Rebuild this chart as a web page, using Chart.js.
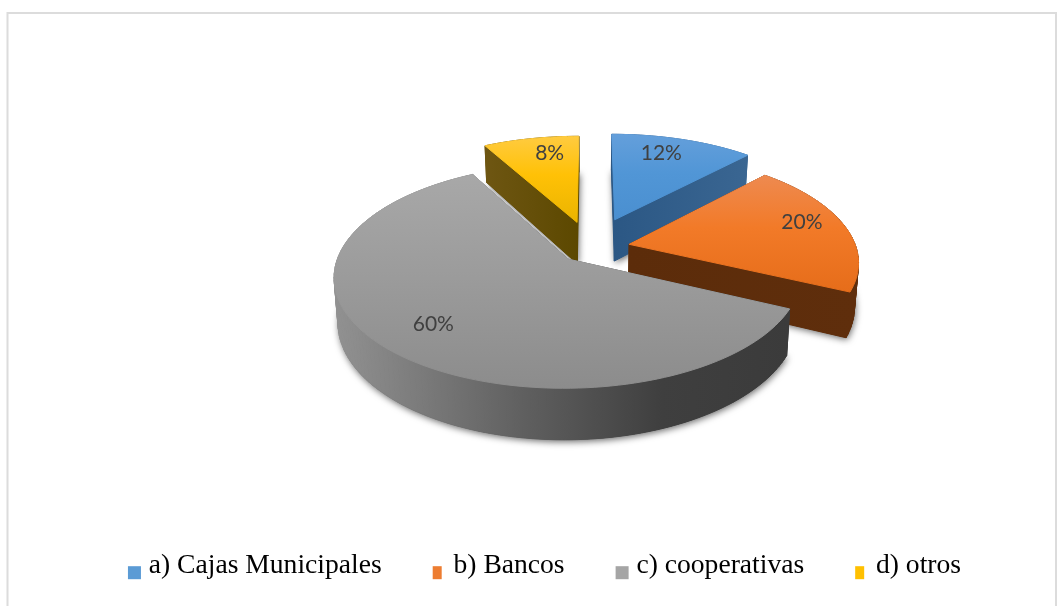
<!DOCTYPE html>
<html><head><meta charset="utf-8">
<style>html,body{margin:0;padding:0;background:#fff}canvas{display:block}</style>
<script src="https://cdn.jsdelivr.net/npm/chart.js@4"></script>
</head><body><canvas id="c" width="1059" height="606"></canvas>
<script>
const categories = ["a) Cajas Municipales","b) Bancos","c) cooperativas","d) otros"];
const shares = [12,20,60,8];
const explodePx = [67,39,33,58];
const labelRadius = [0.72,0.8,0.83,0.7];
const labelNudge = [[-4,-7],[0,-7],[12,-8],[6,-8]];
const topColors = [["#649FDB","#5196D6","#4A8FD0"],["#EE8A50","#F27A28","#E66D1A"],["#A8A8A8","#9C9C9C","#8C8C8C"],["#FFCB40","#FFC106","#EAB400"]];
const sideColors = [["#2B5784","#3A6692"],["#5C2C0A","#5F2E0C"],["#929292","#3B3B3B"],["#6E5612","#5C4800"]];
const markerColors = ["#5B9BD5","#ED7D31","#A5A5A5","#FFC000"];
const markerWidths = [13,9,13,9];
const drawOrder = [0,3,1,2];

const view = {shiftX:47, shiftY:-8, a:227, b:106, k:0.15, depth:43, shrink:0.985};

function makeProjector(el){
  const cx = el.x + view.shiftX - 0.5, cy = el.y + view.shiftY;
  return (u,v,z)=>{
    const s = 1/(1-view.k*v);
    const xs = z ? view.shrink : 1;
    return {x: cx + view.a*u*s*xs, y: cy + view.b*v*s + view.depth*z*s};
  };
}
function sliceOutline(el,i){
  const th0 = el.startAngle+Math.PI/2, th1 = el.endAngle+Math.PI/2, mid=(th0+th1)/2;
  const e = explodePx[i]/view.a;
  const ex = e*Math.sin(mid), ey = -e*Math.cos(mid);
  const pts=[{u:ex,v:ey,radial:true}];
  const n = Math.max(8,Math.round((th1-th0)/0.03));
  for(let j=0;j<=n;j++){const t=th0+(th1-th0)*j/n;pts.push({u:ex+Math.sin(t),v:ey-Math.cos(t)});}
  return {pts,mid,ex,ey};
}
function path(ctx,P,pts,z){ctx.beginPath();pts.forEach((p,i)=>{const q=P(p.u,p.v,z);i?ctx.lineTo(q.x,q.y):ctx.moveTo(q.x,q.y);});ctx.closePath();}

const pie3d = {
  id:'pie3d',
  beforeDraw(chart){
    const c=chart.ctx;c.save();c.strokeStyle='#DCDCDC';c.lineWidth=2;
    c.beginPath();c.moveTo(7.5,620);c.lineTo(7.5,13);c.lineTo(1056,13);c.lineTo(1056,620);c.stroke();c.restore();
  },
  beforeDatasetDraw(chart,args){
    const ctx=chart.ctx, meta=args.meta;
    drawOrder.forEach(i=>{
      const el=meta.data[i], P=makeProjector(el), o=sliceOutline(el,i), pts=o.pts;
      const xs=pts.map(p=>P(p.u,p.v,0).x), ys=pts.map(p=>P(p.u,p.v,0).y);
      const minX=Math.min(...xs),maxX=Math.max(...xs),minY=Math.min(...ys),maxY=Math.max(...ys);
      ctx.save();
      ctx.shadowColor='rgba(0,0,0,0.6)';ctx.shadowBlur=7;ctx.shadowOffsetX=1;ctx.shadowOffsetY=2;
      ctx.fillStyle=sideColors[i][1];path(ctx,P,pts,1);ctx.fill();ctx.restore();
      const g=ctx.createLinearGradient(minX,0,maxX,0);
      g.addColorStop(0,sideColors[i][0]);
      if(i===2){g.addColorStop(0.42,'#5F5F5F');g.addColorStop(0.72,'#3F3F3F');}
      g.addColorStop(1,sideColors[i][1]);
      ctx.save();ctx.fillStyle=g;ctx.strokeStyle=g;ctx.lineWidth=1;
      for(let j=0;j<pts.length;j++){
        const a=pts[j],b=pts[(j+1)%pts.length];
        const q=[P(a.u,a.v,0),P(b.u,b.v,0),P(b.u,b.v,1),P(a.u,a.v,1)];
        ctx.beginPath();q.forEach((p,m)=>m?ctx.lineTo(p.x,p.y):ctx.moveTo(p.x,p.y));ctx.closePath();ctx.fill();ctx.stroke();
      }
      ctx.restore();
      const t=ctx.createLinearGradient(0,minY,0,maxY);
      t.addColorStop(0,topColors[i][0]);t.addColorStop(0.45,topColors[i][1]);t.addColorStop(1,topColors[i][2]);
      ctx.save();ctx.fillStyle=t;ctx.strokeStyle=t;ctx.lineWidth=1;path(ctx,P,pts,0);ctx.fill();ctx.stroke();ctx.restore();
    });
    ctx.save();ctx.font='21px Lato';ctx.fillStyle='#404040';ctx.textAlign='center';ctx.textBaseline='middle';
    meta.data.forEach((el,i)=>{
      const P=makeProjector(el), o=sliceOutline(el,i), r=labelRadius[i];
      const q=P(o.ex+r*Math.sin(o.mid),o.ey-r*Math.cos(o.mid),0);
      ctx.fillText(shares[i]+'%',q.x+labelNudge[i][0],q.y+labelNudge[i][1]);
    });
    ctx.restore();
    return false;
  },
  afterDraw(chart){
    const ctx=chart.ctx;
    chart.legend.legendHitBoxes.forEach((h,i)=>{
      const top=h.top+h.height/2;
      ctx.fillStyle=markerColors[i];ctx.fillRect(h.left,top,markerWidths[i],13);
    });
  }
};

new Chart(document.getElementById('c'),{
  type:'pie',
  data:{labels:categories,datasets:[{data:shares,backgroundColor:markerColors,offset:explodePx,borderWidth:0}]},
  plugins:[pie3d],
  options:{
    responsive:false,animation:false,
    layout:{padding:{left:30,right:0,top:10,bottom:16}},
    plugins:{
      tooltip:{enabled:false},
      legend:{position:'bottom',labels:{
        font:{family:"'Liberation Serif'",size:27.6},color:'#000',boxWidth:7,boxHeight:13,padding:51,
        generateLabels(chart){return chart.data.labels.map((t,i)=>({text:t,fillStyle:'rgba(0,0,0,0)',strokeStyle:'rgba(0,0,0,0)',lineWidth:0,index:i}));}
      }}
    }
  }
});
</script></body></html>
